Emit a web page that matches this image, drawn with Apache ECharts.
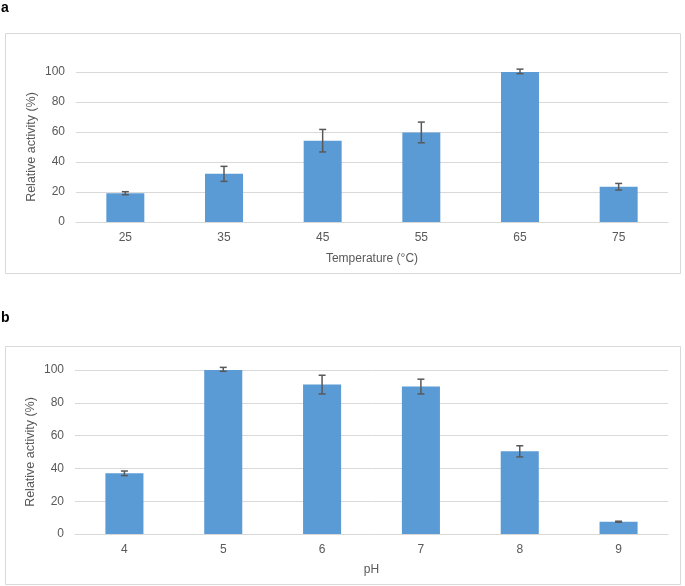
<!DOCTYPE html>
<html>
<head>
<meta charset="utf-8">
<script src="https://cdn.jsdelivr.net/npm/echarts@6/dist/echarts.min.js"></script>
<style>
html,body{margin:0;padding:0;background:#fff;}
#chart{width:685px;height:586px;}
</style>
</head>
<body>
<div id="chart"></div>
<script>
// Panel a: temperature
var tempCategories = ['25', '35', '45', '55', '65', '75'];
var tempActivity = [19.2, 32.1, 54.2, 59.7, 100.4, 23.5];
var tempError = [1.0, 5.0, 7.5, 6.9, 1.5, 2.2];
// Panel b: pH
var phCategories = ['4', '5', '6', '7', '8', '9'];
var phActivity = [37.0, 100.4, 91.1, 89.9, 50.4, 7.5];
var phError = [1.4, 1.2, 5.7, 4.5, 3.4, 0.3];
var yTicks = [0, 20, 40, 60, 80, 100];

var FONT = '"Liberation Sans", Arial, sans-serif';
var TXT = '#595959';
var GRIDC = '#D9D9D9';
var BAR = '#5B9BD5';
var ERR = '#595959';

function errData(vals, errs) {
  return vals.map(function (v, i) { return [i, v - errs[i], v + errs[i]]; });
}
function errRender(params, api) {
  var x = api.value(0);
  var lo = api.coord([x, api.value(1)]);
  var hi = api.coord([x, api.value(2)]);
  var cw = 3.5;
  var st = { stroke: ERR, lineWidth: 1.5 };
  return {
    type: 'group',
    children: [
      { type: 'line', shape: { x1: lo[0], y1: lo[1], x2: hi[0], y2: hi[1] }, style: st },
      { type: 'line', shape: { x1: lo[0] - cw, y1: lo[1], x2: lo[0] + cw, y2: lo[1] }, style: st },
      { type: 'line', shape: { x1: hi[0] - cw, y1: hi[1], x2: hi[0] + cw, y2: hi[1] }, style: st }
    ]
  };
}
function xAx(idx, cats, name, gap) {
  return {
    gridIndex: idx, type: 'category', data: cats,
    name: name, nameLocation: 'middle', nameGap: gap, nameMoveOverlap: false,
    nameTextStyle: { color: TXT, fontSize: 12, fontFamily: FONT },
    axisLine: { show: true, lineStyle: { color: GRIDC, width: 1 } },
    axisTick: { show: false },
    axisLabel: { color: TXT, fontSize: 12, fontFamily: FONT, margin: 10 }
  };
}
function yAx(idx) {
  return {
    gridIndex: idx, type: 'value', min: yTicks[0], max: yTicks[yTicks.length - 1],
    interval: yTicks[1] - yTicks[0],
    name: 'Relative activity (%)', nameLocation: 'middle', nameGap: 38, nameMoveOverlap: false,
    nameTextStyle: { color: TXT, fontSize: 12.5, fontFamily: FONT },
    axisLine: { show: false }, axisTick: { show: false },
    axisLabel: { color: TXT, fontSize: 12, fontFamily: FONT, margin: 11 },
    splitLine: { lineStyle: { color: GRIDC, width: 1 } }
  };
}

var chart = echarts.init(document.getElementById('chart'), null, { renderer: 'canvas' });
chart.setOption({
  backgroundColor: '#fff',
  animation: false,
  graphic: [
    { type: 'rect', shape: { x: 5.5, y: 33.5, width: 675, height: 240 }, style: { fill: 'none', stroke: GRIDC, lineWidth: 1 } },
    { type: 'rect', shape: { x: 5.5, y: 346.5, width: 675, height: 238 }, style: { fill: 'none', stroke: GRIDC, lineWidth: 1 } },
    { type: 'text', left: 1, top: 1, style: { text: 'a', font: 'bold 14px ' + FONT, fill: '#000' } },
    { type: 'text', left: 1, top: 311, style: { text: 'b', font: 'bold 14px ' + FONT, fill: '#000' } }
  ],
  grid: [
    { left: 76, right: 17, top: 72, height: 150 },
    { left: 75, right: 17, top: 370, height: 164 }
  ],
  xAxis: [
    xAx(0, tempCategories, 'Temperature (°C)', 31),
    xAx(1, phCategories, 'pH', 30)
  ],
  yAxis: [yAx(0), yAx(1)],
  series: [
    { type: 'bar', xAxisIndex: 0, yAxisIndex: 0, data: tempActivity, barWidth: '38.5%',
      itemStyle: { color: BAR }, z: 2 },
    { type: 'custom', xAxisIndex: 0, yAxisIndex: 0, data: errData(tempActivity, tempError),
      renderItem: errRender, z: 3 },
    { type: 'bar', xAxisIndex: 1, yAxisIndex: 1, data: phActivity, barWidth: '38.5%',
      itemStyle: { color: BAR }, z: 2 },
    { type: 'custom', xAxisIndex: 1, yAxisIndex: 1, data: errData(phActivity, phError),
      renderItem: errRender, z: 3 }
  ]
});
</script>
</body>
</html>
